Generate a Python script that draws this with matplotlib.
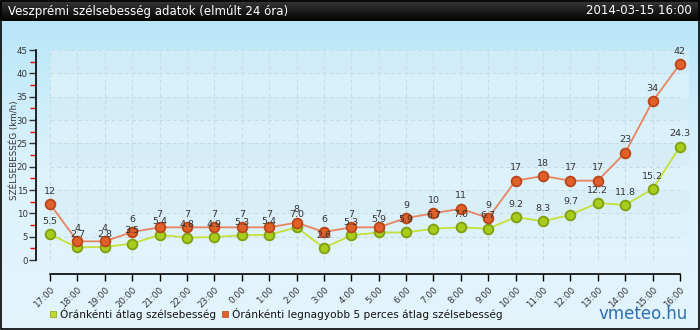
import matplotlib
matplotlib.use('Agg')
import matplotlib.pyplot as plt
import numpy as np
from matplotlib.colors import LinearSegmentedColormap
from matplotlib.ticker import MultipleLocator

hours = ['17:00', '18:00', '19:00', '20:00', '21:00', '22:00', '23:00', '0:00',
         '1:00', '2:00', '3:00', '4:00', '5:00', '6:00', '7:00', '8:00', '9:00',
         '10:00', '11:00', '12:00', '13:00', '14:00', '15:00', '16:00']
avg_speed = [5.5, 2.7, 2.8, 3.5, 5.4, 4.8, 4.9, 5.3, 5.4, 7.0, 2.6, 5.3,
             5.9, 5.9, 6.7, 7.0, 6.7, 9.2, 8.3, 9.7, 12.2, 11.8, 15.2, 24.3]
max_speed = [12, 4, 4, 6, 7, 7, 7, 7, 7, 8, 6, 7, 7, 9, 10, 11, 9,
             17, 18, 17, 17, 23, 34, 42]

W, H = 700, 330
fig = plt.figure(figsize=(W / 100, H / 100), dpi=100)

# background gradient for the whole canvas
bg = fig.add_axes([0, 0, 1, 1], zorder=-10)
grad = np.linspace(0, 1, 256).reshape(-1, 1)
bg_cmap = LinearSegmentedColormap.from_list('bg', ['#b4e4f8', '#dcf2fb', '#e4f5fc'])
bg.imshow(grad, cmap=bg_cmap, aspect='auto', extent=[0, 1, 0, 1], origin='upper')
# dark header bar
hdr = LinearSegmentedColormap.from_list('hdr', ['#3a3a3a', '#000000'])
bg.imshow(grad, cmap=hdr, aspect='auto', extent=[0, 1, 1 - 21 / H, 1], origin='upper')
bg.set_xlim(0, 1); bg.set_ylim(0, 1)
bg.axis('off')
bg.add_patch(plt.Rectangle((0.001, 0.002), 0.997, 0.995, fill=False,
                           edgecolor='black', linewidth=1.2, transform=bg.transAxes))

fig.text(8 / W, 1 - 11 / H, 'Veszprémi szélsebesség adatok (elmúlt 24 óra)',
         color='white', fontsize=8.5, va='center', ha='left')
fig.text(1 - 8 / W, 1 - 11 / H, '2014-03-15 16:00',
         color='white', fontsize=8.5, va='center', ha='right')

ax = fig.add_axes([50 / W, 1 - 260 / H, 630 / W, 210 / H])
ax.set_facecolor('none')
# spine positions first: set_position resets tick styling
for s in ['top', 'right']:
    ax.spines[s].set_visible(False)
ax.spines['left'].set_position(('outward', 10))
ax.spines['bottom'].set_position(('outward', 10))
ax.spines['left'].set_linewidth(1.2)
ax.spines['bottom'].set_linewidth(1.2)

x = np.arange(len(hours))

# subtle horizontal bands
band_cols = ['#e2f4fb', '#dbf0f9', '#d6edf6', '#e0f3fb', '#d4ebf5', '#dff2fa',
             '#d8eef8', '#e3f5fc', '#daeff8']
for i, c in enumerate(band_cols):
    ax.axhspan(i * 5, i * 5 + 5, xmax=1.015, color=c, alpha=0.6, zorder=0, lw=0,
               clip_on=False)

for xi in x:
    ax.axvline(xi, color='#c9d9e0', lw=0.7, ls=(0, (4, 3)), zorder=1)
for yi in range(0, 50, 5):
    ax.axhline(yi, color='#c9d9e0', lw=0.7, ls=(0, (4, 3)), zorder=1)

ax.plot(x, avg_speed, color='#c6e03a', lw=1.3, zorder=3,
        marker='o', ms=7, mfc='#a8cc1c', mec='#7f9e10', mew=1.3, clip_on=False)
ax.plot(x, max_speed, color='#e8845e', lw=1.3, zorder=4,
        marker='o', ms=7, mfc='#e0602a', mec='#b8461a', mew=1.3, clip_on=False)

for xi, v in zip(x, avg_speed):
    ax.annotate(f'{v:.1f}', (xi, v), xytext=(0, 6), textcoords='offset points',
                ha='center', va='bottom', fontsize=6.8, color='#333333', zorder=5)
for xi, v in zip(x, max_speed):
    ax.annotate(f'{v}', (xi, v), xytext=(0, 6), textcoords='offset points',
                ha='center', va='bottom', fontsize=6.8, color='#333333', zorder=5)

ax.set_xlim(0, 23)
ax.set_ylim(0, 45)
ax.set_xticks(x)
ax.set_xticklabels(hours, rotation=45, ha='right', rotation_mode='anchor',
                   fontsize=6.3, color='#333333')
ax.yaxis.set_major_locator(MultipleLocator(5))
ax.yaxis.set_minor_locator(MultipleLocator(2.5))
ax.tick_params(axis='y', which='major', labelsize=6.2, colors='#333333',
               length=5, width=1, direction='out', pad=1)
ax.tick_params(axis='y', which='minor', length=4, width=1, color='#e00000')
ax.tick_params(axis='x', length=5, width=1, direction='out', pad=3)
fig.text(14 / W, 1 - 150 / H, 'SZÉLSEBESSÉG (km/h)', fontsize=6.3, color='#333333',
         rotation=90, ha='center', va='center')

# legend
fig.patches.append(plt.Rectangle((50 / W, 1 - 317 / H), 6 / W, 6 / H,
                                 facecolor='#bedc2a', edgecolor='#8aa010', lw=0.5,
                                 transform=fig.transFigure, figure=fig))
fig.text(60 / W, 1 - 314 / H, 'Óránkénti átlag szélsebesség', fontsize=7.6,
         color='#111111', va='center', ha='left')
fig.patches.append(plt.Rectangle((222 / W, 1 - 317 / H), 6 / W, 6 / H,
                                 facecolor='#e0602a', edgecolor='#b8461a', lw=0.5,
                                 transform=fig.transFigure, figure=fig))
fig.text(232 / W, 1 - 314 / H, 'Óránkénti legnagyobb 5 perces átlag szélsebesség',
         fontsize=7.6, color='#111111', va='center', ha='left')
fig.text(1 - 12 / W, 1 - 314 / H, 'vmeteo.hu', fontsize=12, color='#2d6eb4',
         va='center', ha='right')

fig.savefig('out.png', dpi=100)
